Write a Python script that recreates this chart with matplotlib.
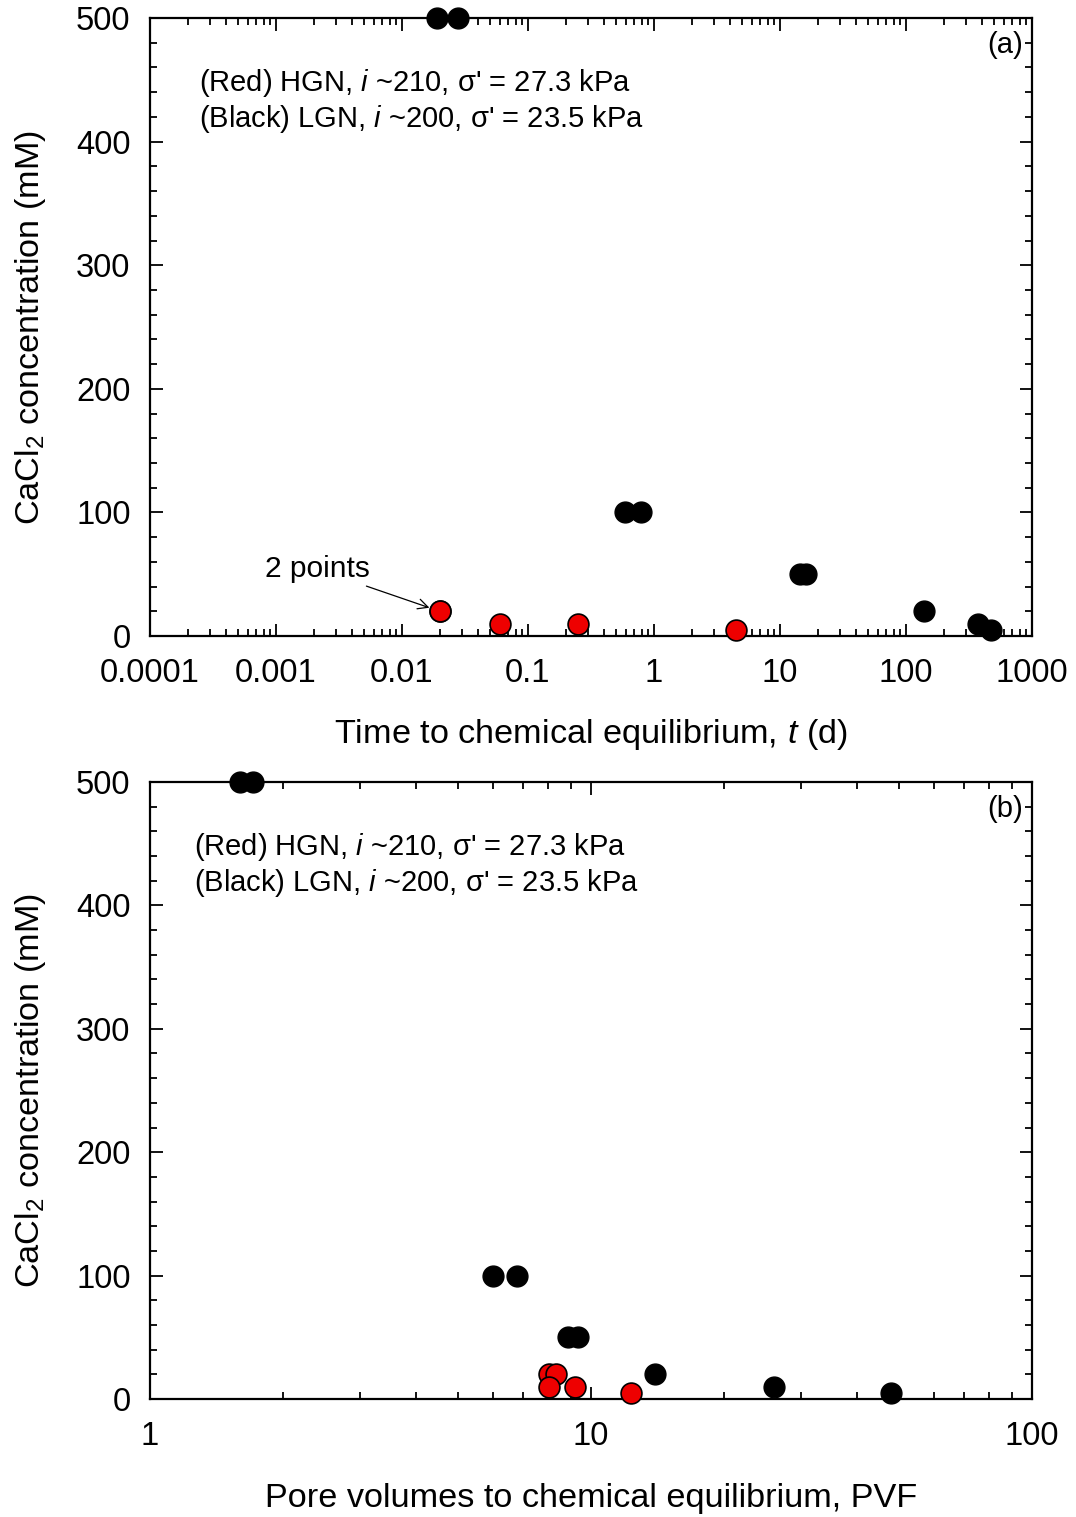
import numpy as np
import matplotlib
matplotlib.use("Agg")
import matplotlib.pyplot as plt
from matplotlib import ticker

plt.rcParams['font.family'] = ['Liberation Sans', 'DejaVu Sans']
plt.rcParams['mathtext.fontset'] = 'custom'
plt.rcParams['mathtext.rm'] = 'Liberation Sans'
plt.rcParams['mathtext.it'] = 'Liberation Sans:italic'

# (a) time to chemical equilibrium (d) vs CaCl2 concentration (mM)
t_red = [0.020, 0.020, 0.060, 0.25, 4.5]
c_red_t = [20, 20, 10, 10, 5]
t_black = [0.019, 0.028, 0.59, 0.79, 14.4, 16.0, 139, 372, 470]
c_black_t = [500, 500, 100, 100, 50, 50, 20, 10, 5]

# (b) pore volumes to chemical equilibrium vs CaCl2 concentration (mM)
pvf_red = [8.03, 8.33, 8.03, 9.2, 12.3]
c_red_p = [20, 20, 10, 10, 5]
pvf_black = [1.60, 1.71, 6.0, 6.79, 8.87, 9.34, 14.0, 26.0, 47.9]
c_black_p = [500, 500, 100, 100, 50, 50, 20, 10, 5]

note_red = "(Red) HGN, $\\mathit{i}$ ~210, σ' = 27.3 kPa"
note_black = "(Black) LGN, $\\mathit{i}$ ~200, σ' = 23.5 kPa"
ylab = "CaCl$_2$ concentration (mM)"

fig = plt.figure(figsize=(10.76, 15.17), dpi=100)
ax1 = fig.add_axes([0.1394, 0.5807, 0.8197, 0.4074])
ax2 = fig.add_axes([0.1394, 0.0778, 0.8197, 0.4067])

fs_tick = 23.5
fs_lab = 24.7


def style(ax, xlim, xticks, xlabels):
    ax.set_xscale('log')
    ax.set_xlim(*xlim)
    ax.set_ylim(0, 500)
    ax.set_xticks(xticks)
    ax.set_xticklabels(xlabels)
    ax.xaxis.set_minor_locator(ticker.LogLocator(base=10, subs=np.arange(2, 10), numticks=20))
    ax.xaxis.set_minor_formatter(ticker.NullFormatter())
    ax.set_yticks([0, 100, 200, 300, 400, 500])
    ax.yaxis.set_minor_locator(ticker.MultipleLocator(20))
    ax.tick_params(which='both', direction='in', top=True, right=True, width=1.3)
    ax.tick_params(which='major', length=9)
    ax.tick_params(which='minor', length=5)
    ax.tick_params(axis='x', which='major', labelsize=fs_tick, pad=16)
    ax.tick_params(axis='y', which='major', labelsize=fs_tick, pad=14)
    for s in ax.spines.values():
        s.set_linewidth(1.6)
    ax.set_ylabel(ylab, fontsize=fs_lab, labelpad=20)


def points(ax, xb, yb, xr, yr):
    ax.plot(xb, yb, 'o', color='black', markersize=15, markeredgecolor='black',
            markeredgewidth=1, clip_on=False, zorder=5)
    ax.plot(xr, yr, 'o', color='#ee0000', markersize=15, markeredgecolor='black',
            markeredgewidth=1.2, clip_on=False, zorder=6)


style(ax1, (1e-4, 1e3), [1e-4, 1e-3, 1e-2, 1e-1, 1, 10, 100, 1000],
      ['0.0001', '0.001', '0.01', '0.1', '1', '10', '100', '1000'])
points(ax1, t_black, c_black_t, t_red, c_red_t)
ax1.set_xlabel("Time to chemical equilibrium, $\\mathit{t}$ (d)", fontsize=fs_lab, labelpad=20)
ax1.text(0.056, 0.895, note_red, transform=ax1.transAxes, fontsize=21, va='center')
ax1.text(0.056, 0.837, note_black, transform=ax1.transAxes, fontsize=21, va='center')
ax1.text(0.99, 0.957, "(a)", transform=ax1.transAxes, fontsize=21, ha='right', va='center')
ax1.annotate("2 points", xy=(t_red[0], c_red_t[0]), xytext=(0.00082, 54),
             fontsize=21.5, va='center',
             arrowprops=dict(arrowstyle='->', color='black', lw=0.9,
                             shrinkA=0, shrinkB=8, mutation_scale=18))

style(ax2, (1, 100), [1, 10, 100], ['1', '10', '100'])
points(ax2, pvf_black, c_black_p, pvf_red, c_red_p)
ax2.set_xlabel("Pore volumes to chemical equilibrium, PVF", fontsize=fs_lab, labelpad=22)
ax2.text(0.05, 0.895, note_red, transform=ax2.transAxes, fontsize=21, va='center')
ax2.text(0.05, 0.837, note_black, transform=ax2.transAxes, fontsize=21, va='center')
ax2.text(0.99, 0.957, "(b)", transform=ax2.transAxes, fontsize=21, ha='right', va='center')

fig.savefig("out.png", dpi=100)
